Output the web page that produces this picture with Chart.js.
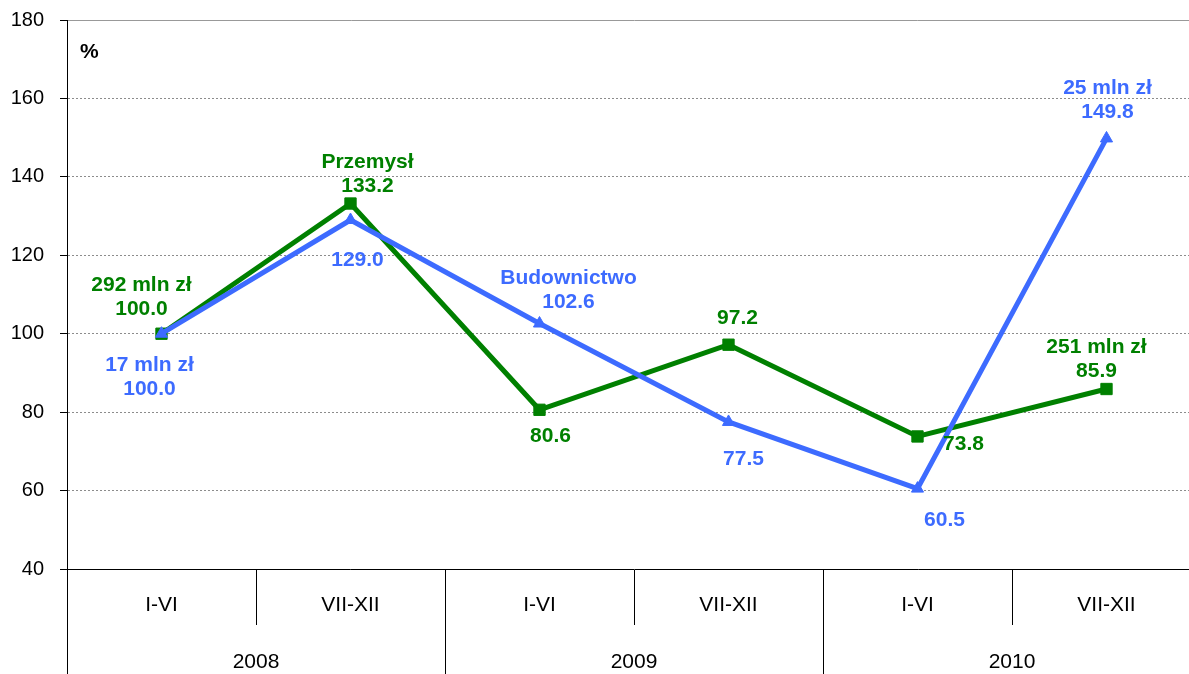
<!DOCTYPE html>
<html>
<head>
<meta charset="utf-8">
<script src="https://cdn.jsdelivr.net/npm/chart.js@4"></script>
<style>
  html, body { margin: 0; padding: 0; background: #fff; overflow: hidden; }
  #wrap { position: absolute; left: 0; top: 0; width: 1201px; height: 674px; }
</style>
</head>
<body>
<div id="wrap"><canvas id="chart" width="1201" height="674"></canvas></div>
<script>
// half-years and years (two-level axis)
const periods = ["I-VI", "VII-XII", "I-VI", "VII-XII", "I-VI", "VII-XII"];
const years = ["2008", "2009", "2010"];

// index, first half 2008 = 100
const przemysl = [100.0, 133.2, 80.6, 97.2, 73.8, 85.9];
const budownictwo = [100.0, 129.0, 102.6, 77.5, 60.5, 149.8];

// extra caption line above some values
const przemyslNotes = ["292 mln zł", "Przemysł", "", "", "", "251 mln zł"];
const budownictwoNotes = ["17 mln zł", "", "Budownictwo", "", "", "25 mln zł"];

const yTicks = [40, 60, 80, 100, 120, 140, 160, 180];

const GREEN = "#008000";
const BLUE = "#3d6bff";
const FONT = "'Liberation Sans', Arial, sans-serif";

// where the value text sits relative to its point
const labelPos = {
  przemysl: [[-20, -25], [17, -17], [11, 26], [9, -26], [46, 8], [-10, -18]],
  budownictwo: [[-12, 55], [7, 40], [29, -21], [15, 37], [27, 32], [1, -26]]
};

const valueLabels = {
  id: "valueLabels",
  afterDatasetsDraw(chart) {
    const ctx = chart.ctx;
    ctx.save();
    ctx.font = "bold 21px " + FONT;
    ctx.textAlign = "center";
    ctx.textBaseline = "middle";
    chart.data.datasets.forEach((ds, i) => {
      const meta = chart.getDatasetMeta(i);
      const pos = labelPos[ds.key];
      ctx.fillStyle = ds.borderColor;
      meta.data.forEach((pt, j) => {
        const x = pt.x + pos[j][0];
        const y = pt.y + pos[j][1];
        ctx.fillText(ds.data[j].toFixed(1), x, y);
        if (ds.notes[j]) ctx.fillText(ds.notes[j], x, y - 24);
      });
    });
    // unit
    ctx.fillStyle = "#000";
    ctx.textAlign = "left";
    ctx.fillText("%", chart.chartArea.left + 13, chart.chartArea.top + 32);
    ctx.restore();
  }
};

new Chart(document.getElementById("chart"), {
  type: "line",
  data: {
    labels: periods,
    datasets: [
      {
        key: "budownictwo",
        label: "Budownictwo",
        data: budownictwo,
        notes: budownictwoNotes,
        borderColor: BLUE,
        backgroundColor: BLUE,
        borderWidth: 5,
        pointStyle: "triangle",
        pointRadius: 7,
        pointBorderWidth: 1,
        tension: 0,
        order: 0
      },
      {
        key: "przemysl",
        label: "Przemysł",
        data: przemysl,
        notes: przemyslNotes,
        borderColor: GREEN,
        backgroundColor: GREEN,
        borderWidth: 5,
        pointStyle: "rect",
        pointRadius: 8,
        pointBorderWidth: 1,
        tension: 0,
        order: 1
      }
    ]
  },
  options: {
    responsive: false,
    animation: false,
    devicePixelRatio: 1,
    layout: { autoPadding: false, padding: { left: 0, right: 0, top: 20, bottom: 0 } },
    plugins: {
      legend: { display: false },
      tooltip: { enabled: false }
    },
    scales: {
      x: {
        type: "category",
        offset: true,
        grid: {
          offset: true,
          drawOnChartArea: false,
          tickLength: 56,
          tickColor: "#000",
          tickWidth: 1
        },
        border: { display: true, color: "#000", width: 1 },
        ticks: {
          color: "#000",
          font: { family: FONT, size: 21 },
          padding: -32,
          maxRotation: 0,
          autoSkip: false
        },
        afterFit: (s) => { s.height = 56; }
      },
      x2: {
        type: "category",
        position: "bottom",
        labels: years,
        offset: true,
        grid: {
          offset: true,
          drawOnChartArea: false,
          tickLength: 49,
          tickColor: "#000",
          tickWidth: 1
        },
        border: { display: false },
        ticks: {
          color: "#000",
          font: { family: FONT, size: 21 },
          padding: -24,
          maxRotation: 0,
          autoSkip: false
        },
        afterFit: (s) => { s.height = 49; }
      },
      y: {
        min: 40,
        max: 180,
        afterBuildTicks: (s) => { s.ticks = yTicks.map(v => ({ value: v })); },
        grid: {
          color: (c) => c.tick && c.tick.value === 180 ? "#999" : "#8c8c8c",
          lineWidth: 1,
          tickLength: 7,
          tickColor: "#000"
        },
        border: {
          display: true,
          color: "#000",
          width: 1,
          dash: (c) => c.tick && c.tick.value === 180 ? [] : [2, 2]
        },
        ticks: {
          color: "#000",
          font: { family: FONT, size: 20 },
          padding: 16
        },
        afterFit: (s) => {
          s.width = 67;
          s.paddingTop = 0;
          s.paddingBottom = 0;
        }
      }
    }
  },
  plugins: [valueLabels]
});
</script>
</body>
</html>
